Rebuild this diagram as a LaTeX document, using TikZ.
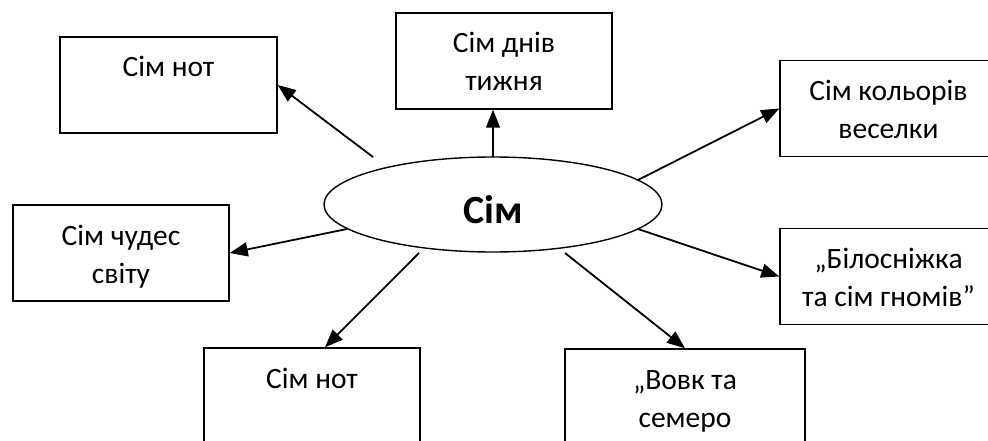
\documentclass[tikz,border=0pt]{standalone}
\usepackage{fontspec}
\setmainfont{Carlito}
\usetikzlibrary{arrows.meta,shapes.geometric}
\newcommand\bxt[2]{\parbox[t][96pt][t]{#1}{\centering\rule{0pt}{40pt}#2\par}}
\tikzset{
  x=1pt,y=1pt,
  txtbox/.style={draw,line width=1.5pt,inner sep=0pt,font=\fontsize{29.5pt}{38pt}\selectfont},
  centre/.style={draw,ellipse,line width=1.4pt,inner sep=0pt,minimum width=338pt,minimum height=95pt,
    font=\bfseries\fontsize{40pt}{48pt}\selectfont,text height=37pt,text depth=0pt},
  link/.style={line width=1.8pt,-{Triangle[length=18pt,width=14pt]}}
}
\begin{document}
\begin{tikzpicture}
\useasboundingbox (0,0) rectangle (988,-441);
% centre
\node[centre] (c) at (493,-204.5) {Сім};
% boxes
\node[txtbox] (A) at (168.5,-85) {\bxt{217pt}{Сім нот\\}};
\node[txtbox] (B) at (504,-61) {\bxt{216pt}{Сім днів\\тижня}};
\node[txtbox] (C) at (888.5,-108.5) {\bxt{217pt}{Сім кольорів\\веселки}};
\node[txtbox] (D) at (121,-253) {\bxt{216pt}{Сім чудес\\світу}};
\node[txtbox] (E) at (312,-396) {\bxt{216pt}{Сім нот\\}};
\node[txtbox] (F) at (888.5,-276.5) {\bxt{217pt}{„Білосніжка\\та сім гномів”}};
\node[txtbox] (G) at (685,-397) {\bxt{240pt}{„Вовк та\\семеро}};
% free ends of connectors
\coordinate (s1) at (373,-157);
\coordinate (s2) at (493,-157);
\coordinate (s3) at (638,-180);
\coordinate (s4) at (347,-229);
\coordinate (s5) at (419,-253);
\coordinate (s6) at (638,-229);
\coordinate (s7) at (565,-253);
% connectors
\draw[link] (s1) -- (A.east);
\draw[link] (s2) -- (s2 |- B.south);
\draw[link] (s3) -- (C.west);
\draw[link] (s4) -- (D.east);
\draw[link] (s5) -- ([xshift=13pt]E.north);
\draw[link] (s6) -- (F.west);
\draw[link] (s7) -- (G.north);
\end{tikzpicture}
\end{document}
